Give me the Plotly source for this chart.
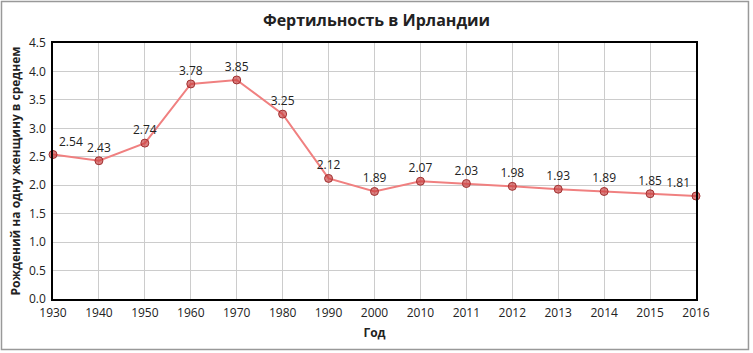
import plotly.graph_objects as go

years = ["1930", "1940", "1950", "1960", "1970", "1980", "1990", "2000",
         "2010", "2011", "2012", "2013", "2014", "2015", "2016"]
fertility = [2.54, 2.43, 2.74, 3.78, 3.85, 3.25, 2.12, 1.89,
             2.07, 2.03, 1.98, 1.93, 1.89, 1.85, 1.81]
labels = ["%.2f" % v for v in fertility]

positions = ["top center"] * len(years)
positions[0] = "top right"
positions[-1] = "top left"

fig = go.Figure(go.Scatter(
    x=years, y=fertility, mode="lines+markers+text",
    text=labels, textposition=positions,
    textfont=dict(family="Open Sans", size=12, color="#222"),
    line=dict(color="#f08080", width=2),
    marker=dict(size=8, color="rgba(200,60,60,0.65)",
                line=dict(color="#a03030", width=1)),
    cliponaxis=False, hoverinfo="x+y",
))

fig.update_layout(
    width=753, height=353,
    margin=dict(l=53, r=57, t=43, b=54),
    paper_bgcolor="white", plot_bgcolor="white",
    font=dict(family="Open Sans", size=12, color="#222"),
    title=dict(text="<b>Фертильность в Ирландии</b>", x=0.5, xref="container",
               y=1 - 20 / 353, yanchor="middle",
               font=dict(size=16, color="#222")),
    showlegend=False,
    xaxis=dict(type="category", range=[0, 14], showgrid=True, gridcolor="#cccccc",
               showline=True, linecolor="black", linewidth=1.5, mirror=True,
               ticks="", tickfont=dict(size=12), ticklabelstandoff=2,
               title=dict(text="<b>Год</b>", standoff=8, font=dict(size=12))),
    yaxis=dict(range=[0, 4.5], dtick=0.5, tickformat=".1f", showgrid=True,
               gridcolor="#cccccc", showline=True, linecolor="black",
               linewidth=1.5, mirror=True, zeroline=False, ticks="",
               tickfont=dict(size=12), ticklabelstandoff=3,
               title=dict(text="<b>Рождений на одну женщину в среднем</b>",
                          standoff=6, font=dict(size=12))),
    shapes=[dict(type="rect", xref="paper", yref="paper",
                 x0=-0.0801, x1=1.0816, y0=-0.197, y1=1.162,
                 line=dict(color="#999999", width=1.5), layer="below")],
)

fig.write_html("out.html")
